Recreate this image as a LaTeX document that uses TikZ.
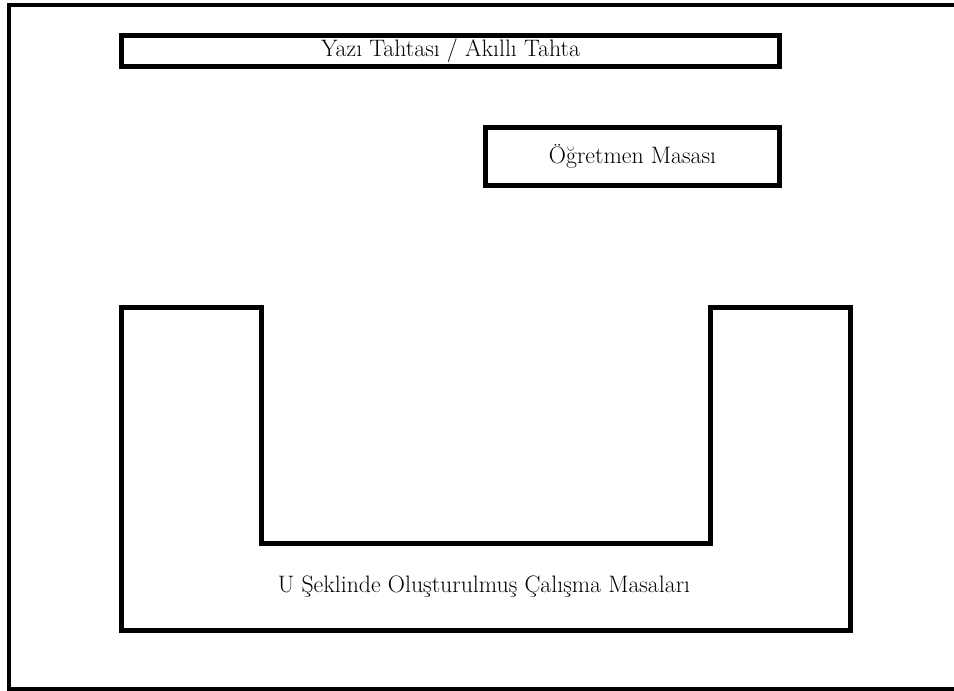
\documentclass[tikz,border=0pt]{standalone}
\usepackage{tikz}
\usetikzlibrary{positioning}

\tikzset{
  wall/.style={line width=4.5pt},
  table/.style={draw,line width=5pt,inner sep=0pt},
  lbl/.style={font=\fontsize{23.8}{27}\selectfont}
}

\begin{document}
\begin{tikzpicture}[x=1pt,y=-1pt]

  \useasboundingbox (0,0) rectangle (954,691);
  % classroom walls (right side runs off the page)
  \draw[wall] (970,5) -- (9,5) -- (9,689) -- (970,689);

  \node[table,lbl,minimum width=658.5pt,minimum height=30.5pt] (board)
        at (450.5,51) {Yazı Tahtası / Akıllı Tahta};
  \node[table,lbl,minimum width=294.5pt,minimum height=58.5pt] (desk)
        at (632.5,156.5) {Öğretmen Masası};

  % U shaped tables
  \draw[line width=5pt] (121,307.5) -- (261,307.5) -- (261,543.5)
        -- (710,543.5) -- (710,307.5) -- (850,307.5) -- (850,630)
        -- (121,630) -- cycle;
  \node[lbl] (tables) at (484,587) {U Şeklinde Oluşturulmuş Çalışma Masaları};

\end{tikzpicture}
\end{document}
